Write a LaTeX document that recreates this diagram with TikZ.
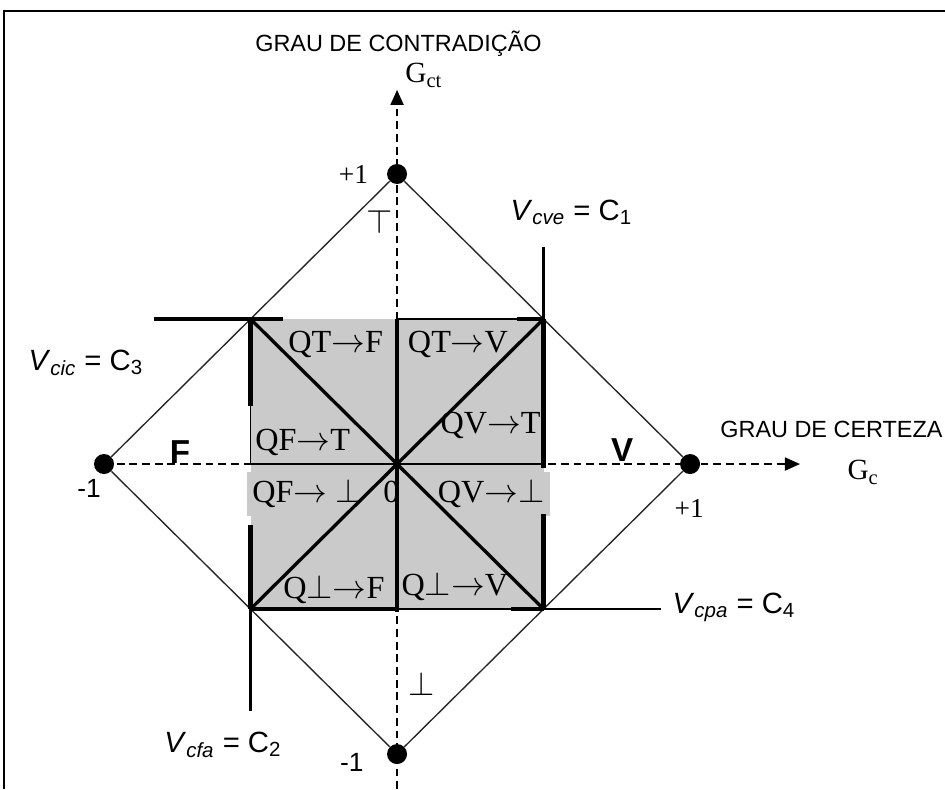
\documentclass[tikz,border=0pt]{standalone}
\usepackage{fontspec}
\setmainfont{Liberation Serif}
\setsansfont{Liberation Sans}
\usetikzlibrary{arrows.meta, positioning}
\definecolor{sqgray}{RGB}{202,202,202}
\tikzset{
  %% ---- points and lines ----
  dot/.style    = {circle, fill=black, inner sep=0pt, minimum size=0.36cm},
  axis/.style   = {dash pattern=on 4pt off 2.5pt, line width=0.9pt,
                   -{Triangle[length=7.7pt, width=6.7pt]}},
  rim/.style    = {line width=0.7pt, color=black!85},
  frame/.style  = {line width=1.4pt},
  heavy/.style  = {line width=2.4pt},
  diag/.style   = {line width=1.7pt},
  medium/.style = {line width=1.3pt},
  thinedge/.style = {line width=0.6pt},
  %% ---- texts ----
  qlbl/.style   = {anchor=base west, inner sep=0pt,
                   font=\fontsize{16.5}{19}\selectfont},
  qbox/.style   = {qlbl, fill=sqgray, inner xsep=3pt, inner ysep=4pt},
  olbl/.style   = {inner sep=0pt, font=\fontsize{14}{16}\selectfont},
  slbl/.style   = {inner sep=0pt, font=\fontsize{13.5}{16}\sffamily},
  bigl/.style   = {inner sep=0pt, font=\fontsize{17}{20}\sffamily\bfseries},
  mlbl/.style   = {inner sep=0pt, font=\fontsize{19}{22}\selectfont},
  clbl/.style   = {anchor=base west, inner sep=0pt,
                   font=\fontsize{15}{18}\sffamily},
  title/.style  = {inner sep=0pt, font=\fontsize{12}{14}\sffamily},
  glbl/.style   = {anchor=base west, inner sep=0pt,
                   font=\fontsize{15}{17}\selectfont},
}

\begin{document}
\begin{tikzpicture}[x=5.274cm, y=5.22cm]
  \useasboundingbox (-1.355,-1.121) rectangle (1.870,1.6);

  %% frame
  \coordinate (fr-b)  at (-1.341,-1.121);
  \coordinate (fr-tl) at (-1.341,1.562);
  \coordinate (fr-r)  at (1.870,1.562);
  \draw[frame] (fr-b) -- (fr-tl) -- (fr-r);

  %% lattice vertices
  \node[dot] (top) at (0,1)  {};
  \node[dot] (bot) at (0,-1) {};
  \node[dot] (lft) at (-1,0) {};
  \node[dot] (rgt) at (1,0)  {};
  \draw[rim] (top) -- (rgt) -- (bot) -- (lft) -- (top);

  %% axes
  \coordinate (xtip) at (1.375,0);
  \coordinate (ytip) at (0,1.29);
  \coordinate (yend) at (0,-1.121);
  \draw[axis] (lft.center) -- (xtip);
  \draw[axis] (yend) -- (ytip);

  %% inner square
  \coordinate (tl) at (-0.5,0.5);
  \coordinate (tr) at (0.5,0.5);
  \coordinate (bl) at (-0.5,-0.5);
  \coordinate (br) at (0.5,-0.5);
  \fill[sqgray] (bl) rectangle (tr);

  \node[qlbl] (qtf) at (-0.372,0.386)  {QT$\to$F};
  \node[qlbl] (qtv) at (0.036,0.386)   {QT$\to$V};
  \node[qlbl] (qvt) at (0.147,0.107)   {QV$\to$T};
  \node[qlbl] (qft) at (-0.485,0.045)  {QF$\to$T};
  \node[qbox] (qfb) at (-0.515,-0.134) {QF$\to$\ $\bot$};
  \node[qbox] (qvb) at (0.118,-0.134)  {QV$\to$$\bot$};
  \node[qlbl] (zero) at (-0.048,-0.134) {0};
  \node[qlbl] (qbf) at (-0.389,-0.462) {Q$\bot$$\to$F};
  \node[qlbl] (qbv) at (0.014,-0.452)  {Q$\bot$$\to$V};

  %% square edges and limits
  \draw[diag] (tl) -- (br);
  \draw[diag] (bl) -- (tr);
  \draw[medium] (-0.5,0) -- (0.5,0);
  \draw[heavy] (0,0.5) -- (0,-0.51);
  \draw[heavy] (tl) -- (-0.5,0.2);
  \draw[thinedge] (-0.5,0.2) -- (-0.5,0);
  \draw[heavy] (-0.5,-0.21) -- (bl);
  \draw[heavy] (tr) -- (0.5,-0.014);
  \draw[heavy] (0.5,-0.172) -- (br);
  \draw[heavy] (-0.83,0.5) -- (-0.39,0.5);
  \draw[medium] (0,0.5) -- (tr);
  \draw[heavy] (0.41,0.5) -- (tr);
  \draw[heavy] (bl) -- (0,-0.5);
  \draw[medium] (0,-0.5) -- (0.9,-0.5);
  \draw[heavy] (0.39,-0.5) -- (br);
  \draw[medium] (0.5,0.75) -- (tr);
  \draw[medium] (bl) -- (-0.5,-0.85);

  %% outer texts
  \node[olbl, anchor=base west] (ptop) at (-0.2,0.969) {+1};
  \node[olbl, anchor=base west] (prgt) at (0.946,-0.183) {+1};
  \node[slbl] (mbot) at (-0.154,-1.028) {-1};
  \node[slbl] (mlft) at (-1.051,-0.083) {-1};
  \node[mlbl] (ttop) at (-0.061,0.834) {$\top$};
  \node[mlbl] (tbot) at (0.085,-0.759) {$\bot$};
  \node[bigl] (fval) at (-0.741,0.041) {F};
  \node[bigl] (vval) at (0.768,0.048) {V};

  \node[title, anchor=base] (gct) at (0.005,1.424) {GRAU DE CONTRADIÇÃO};
  \node[glbl] (gctsym) at (0.027,1.314) {G\textsubscript{ct}};
  \node[title, anchor=base west] (gc) at (1.102,0.09) {GRAU DE CERTEZA};
  \node[glbl] (gcsym) at (1.536,-0.055) {G\textsubscript{c}};

  \node[clbl] (c1) at (0.386,0.841)   {\textit{V}\textsubscript{\textit{cve}} = C\textsubscript{1}};
  \node[clbl] (c3) at (-1.259,0.324)  {\textit{V}\textsubscript{\textit{cic}} = C\textsubscript{3}};
  \node[clbl] (c4) at (0.939,-0.514)  {\textit{V}\textsubscript{\textit{cpa}} = C\textsubscript{4}};
  \node[clbl] (c2) at (-0.795,-0.993) {\textit{V}\textsubscript{\textit{cfa}} = C\textsubscript{2}};

\end{tikzpicture}
\end{document}
